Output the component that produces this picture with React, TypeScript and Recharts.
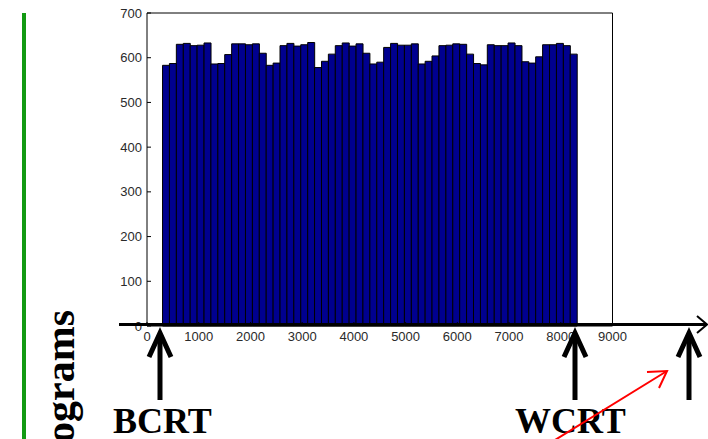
import React from 'react';
import { ComposedChart, Bar, XAxis, YAxis } from 'recharts';

const binCenters = [
  367, 500, 634, 768, 901, 1035, 1169, 1302, 1436, 1569,
  1703, 1837, 1970, 2104, 2237, 2371, 2505, 2638, 2772, 2905,
  3039, 3173, 3306, 3440, 3573, 3707, 3841, 3974, 4108, 4241,
  4375, 4509, 4642, 4776, 4909, 5043, 5177, 5310, 5444, 5577,
  5711, 5845, 5978, 6112, 6245, 6379, 6513, 6646, 6780, 6913,
  7047, 7181, 7314, 7448, 7581, 7715, 7849, 7982, 8116, 8249,
];

const counts = [
  583, 587, 630, 632, 627, 628, 633, 586, 587, 607,
  631, 631, 629, 631, 610, 583, 588, 627, 632, 626,
  629, 634, 578, 592, 608, 627, 633, 626, 631, 610,
  586, 590, 623, 632, 628, 628, 631, 586, 592, 604,
  627, 628, 631, 630, 608, 587, 584, 629, 627, 627,
  633, 627, 591, 588, 602, 629, 629, 632, 627, 608,
];

const xTicks = [0, 1000, 2000, 3000, 4000, 5000, 6000, 7000, 8000, 9000];
const yTicks = [0, 100, 200, 300, 400, 500, 600, 700];

const annotationLabels = { title: 'Histograms', best: 'BCRT', worst: 'WCRT' };

const data = binCenters.map((x, i) => ({ x, count: counts[i] }));

const tickStyle = { fontSize: 13, fill: '#2a2a2a', fontFamily: '"Liberation Sans", Arial, sans-serif' };

function UpArrow({ x }: { x: number }) {
  return (
    <g stroke="#000" strokeWidth={5} fill="none" strokeLinecap="butt" strokeLinejoin="miter">
      <line x1={x} y1={334} x2={x} y2={400} />
      <polyline points={`${x - 11},${357} ${x},${333} ${x + 11},${357}`} />
    </g>
  );
}

export default function App() {
  return (
    <div style={{ position: 'absolute', left: 0, top: 0, width: 708, height: 439, background: '#fff', overflow: 'hidden' }}>
      <ComposedChart
        width={708}
        height={439}
        data={data}
        margin={{ top: 12, right: 94.5, bottom: 112, left: 146 }}
        barCategoryGap={0}
        barGap={0}
      >
        <XAxis
          xAxisId="b"
          dataKey="x"
          type="number"
          domain={[0, 9000]}
          ticks={xTicks}
          height={1}
          tickSize={-4}
          tickMargin={10}
          tick={tickStyle}
          axisLine={{ stroke: '#000' }}
          tickLine={{ stroke: '#000' }}
          interval={0}
        />
        <XAxis
          xAxisId="t"
          orientation="top"
          type="number"
          domain={[0, 9000]}
          ticks={xTicks}
          height={1}
          tickSize={-4}
          tick={false}
          axisLine={{ stroke: '#000' }}
          tickLine={{ stroke: '#000' }}
          interval={0}
        />
        <YAxis
          yAxisId="l"
          type="number"
          domain={[0, 700]}
          ticks={yTicks}
          width={1}
          tickSize={-4}
          tickMargin={9}
          tick={tickStyle}
          axisLine={{ stroke: '#000' }}
          tickLine={{ stroke: '#000' }}
          interval={0}
        />
        <YAxis
          yAxisId="r"
          orientation="right"
          type="number"
          domain={[0, 700]}
          ticks={yTicks}
          width={1}
          tickSize={-4}
          tick={false}
          axisLine={{ stroke: '#000' }}
          tickLine={{ stroke: '#000' }}
          interval={0}
        />
        <Bar
          xAxisId="b"
          yAxisId="l"
          dataKey="count"
          fill="#00008f"
          stroke="#000"
          strokeWidth={1}
          isAnimationActive={false}
        />
      </ComposedChart>
      <svg
        width={708}
        height={439}
        style={{ position: 'absolute', left: 0, top: 0, pointerEvents: 'none' }}
      >
        <line x1={24} y1={13} x2={24} y2={439} stroke="#129a12" strokeWidth={4} />
        <text
          transform="translate(74,310) rotate(-90)"
          textAnchor="end"
          fontFamily='"Liberation Serif", "Times New Roman", serif'
          fontWeight="bold"
          fontSize={42}
          fill="#000"
        >
          {annotationLabels.title}
        </text>
        <line x1={119} y1={324.5} x2={707} y2={324.5} stroke="#000" strokeWidth={3} />
        <polyline points="697,316 707,324.5 697,333" stroke="#000" strokeWidth={2} fill="none" />
        <UpArrow x={160} />
        <UpArrow x={575} />
        <UpArrow x={689} />
        <text
          x={113}
          y={433}
          fontFamily='"Liberation Serif", "Times New Roman", serif'
          fontWeight="bold"
          fontSize={36}
          fill="#000"
        >
          {annotationLabels.best}
        </text>
        <text
          x={515}
          y={433}
          fontFamily='"Liberation Serif", "Times New Roman", serif'
          fontWeight="bold"
          fontSize={36}
          fill="#000"
        >
          {annotationLabels.worst}
        </text>
        <g stroke="#f00" strokeWidth={2} fill="none">
          <line x1={555} y1={440} x2={667} y2={371} />
          <polyline points="647,372 667,371 659,388" />
        </g>
      </svg>
    </div>
  );
}
